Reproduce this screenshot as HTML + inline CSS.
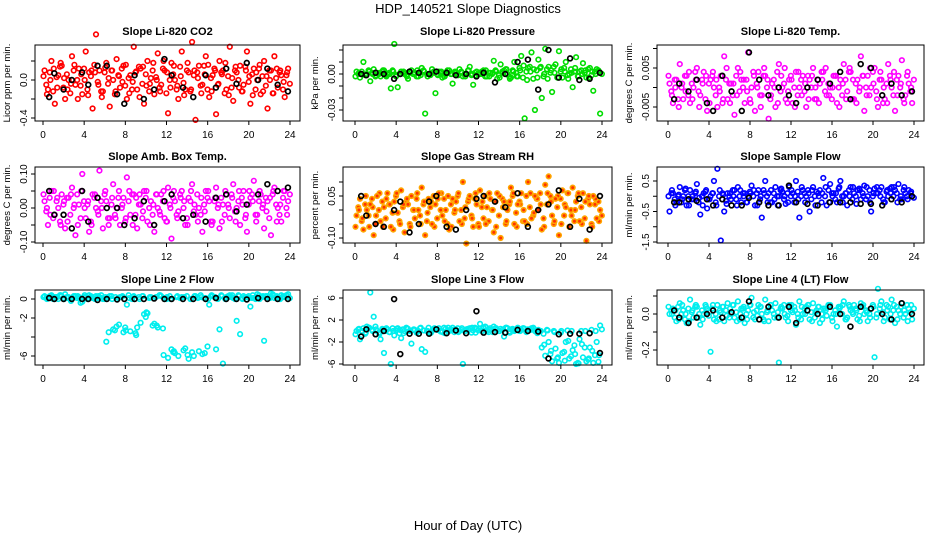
<!DOCTYPE html>
<html><head><meta charset="utf-8"><style>
body{margin:0;background:#fff}
svg{display:block;font-family:"Liberation Sans",sans-serif}
</style></head><body>
<svg id="chart" width="936" height="540" viewBox="0 0 936 540">
<rect width="936" height="540" fill="#fff"/>
<text x="468" y="13" font-size="13" text-anchor="middle">HDP_140521  Slope Diagnostics</text>
<text x="468" y="530" font-size="13" text-anchor="middle">Hour of Day (UTC)</text>
</svg>
<script>
const hours = Array.from({length:72},(_, i)=>i/3+0.15);
const hoursB = Array.from({length:72},(_, i)=>i/3+0.32);
const hoursC = Array.from({length:72},(_, i)=>i/3+0.05);
const blackHours = [0.6,1.1,2.0,2.8,3.8,4.4,5.3,6.2,7.2,7.9,8.9,9.8,10.8,11.8,12.5,13.6,14.6,15.8,16.8,17.8,18.8,19.8,20.9,21.8,22.8,23.8];
const xTicks = [0,4,8,12,16,20,24];

const co2Vals = [0.1,-0.1,0.2,-0.25,0.05,0.15,-0.2,0.0,0.25,-0.05,0.12,-0.15,0.3,0.08,-0.3,0.48,0.1,-0.12,0.18,-0.28,0.0,0.22,-0.08,0.15,-0.2,0.05,0.35,-0.1,0.12,-0.25,0.2,0.02,-0.15,0.28,-0.05,0.1,-0.35,0.18,0.0,-0.2,0.3,-0.1,0.08,0.4,-0.42,0.15,-0.05,0.25,-0.18,0.05,-0.36,0.2,0.1,-0.1,0.35,-0.22,0.08,0.15,-0.05,0.3,-0.25,0.12,0.0,-0.15,0.2,-0.3,0.1,0.25,-0.08,0.05,-0.18,0.12];
const co2ValsB = [-0.05,0.08,-0.12,0.03,0.14,-0.08,0.06,-0.14,0.1,0.0,-0.06,0.12,-0.1,0.04,0.16,-0.02,-0.12,0.08,-0.04,0.1,-0.15,0.05,0.12,-0.06,0.02,-0.1,0.08,0.14,-0.04,0.06,-0.12,0.1,0.03,-0.08,0.12,-0.14,0.0,0.06,-0.1,0.14,-0.03,0.1,-0.12,0.05,0.08,-0.06,0.15,-0.1,0.02,0.12,-0.05,0.08,-0.14,0.04,-0.08,0.1,0.0,-0.12,0.14,-0.02,0.06,-0.1,0.12,0.04,-0.06,0.1,-0.14,0.02,0.08,-0.1,0.05,-0.04];
const co2ValsC = [0.04,-0.15,0.0,0.12,-0.08,0.18,0.02,-0.1,-0.04,0.16,-0.2,0.06,0.0,-0.16,0.1,0.08,-0.05,-0.18,0.13,0.02,0.1,-0.12,0.04,-0.02,0.16,-0.14,-0.02,0.09,-0.18,0.14,-0.06,-0.04,0.18,0.0,-0.12,0.2,0.08,-0.08,0.15,-0.06,0.04,-0.16,0.18,-0.1,0.1,0.02,-0.14,0.06,0.16,-0.12,0.1,-0.04,0.06,0.18,-0.16,0.02,0.14,-0.08,-0.12,0.1,0.04,-0.16,0.08,0.16,-0.12,0.04,0.0,-0.14,0.12,0.1,-0.02,0.08];
const co2Black = [-0.18,0.07,-0.1,0.0,0.08,-0.05,0.15,0.15,-0.15,-0.25,0.05,-0.2,-0.1,0.22,0.05,-0.08,-0.18,0.05,-0.08,0.12,-0.04,0.18,0.0,0.12,-0.05,-0.12];
const presVals = [0.002,-0.003,0.01,0.0,-0.006,0.004,0.001,-0.002,0.003,0.0,-0.012,0.025,-0.011,0.002,0.0,-0.004,0.003,0.001,-0.002,0.005,-0.033,0.0,0.004,-0.016,0.002,-0.003,0.0,0.003,-0.008,0.001,0.004,-0.002,0.0,0.006,-0.009,0.002,0.0,0.003,-0.002,0.001,0.011,-0.004,0.008,0.003,0.0,-0.003,0.01,-0.002,0.015,-0.037,0.005,0.018,-0.03,0.012,-0.02,0.021,0.006,-0.015,0.008,0.019,-0.003,0.01,0.0,-0.011,0.014,0.002,0.009,-0.003,0.005,-0.014,0.004,-0.033];
const presValsB = [0.0,0.002,-0.001,0.003,0.001,-0.002,0.0,0.002,-0.001,0.001,0.003,-0.002,0.0,0.001,-0.001,0.002,0.0,-0.002,0.001,0.003,0.0,-0.001,0.002,0.0,0.001,-0.002,0.003,0.0,0.001,-0.001,0.002,0.0,0.003,-0.001,0.001,0.0,0.002,-0.002,0.001,0.0,0.003,-0.001,0.002,0.004,-0.002,0.003,0.001,0.005,-0.003,0.002,0.006,-0.004,0.003,0.005,-0.002,0.004,0.001,0.006,-0.003,0.002,0.005,-0.001,0.004,0.002,-0.002,0.003,0.001,0.004,-0.001,0.002,0.003,0.0];
const presValsC = [-0.002,0.001,0.0,-0.001,0.002,0.0,-0.001,0.001,0.003,-0.002,0.0,0.002,-0.001,0.0,0.002,-0.002,0.001,0.0,0.003,-0.001,0.002,-0.002,0.0,0.001,-0.001,0.002,-0.002,0.001,0.0,0.002,-0.001,0.001,-0.002,0.003,0.0,-0.001,0.001,0.0,0.003,-0.002,0.001,0.002,-0.003,0.001,0.004,-0.004,0.002,-0.002,0.003,0.007,-0.005,0.002,0.004,-0.003,0.006,0.0,-0.004,0.003,0.001,-0.003,0.004,0.002,-0.004,0.001,0.005,-0.002,0.0,0.003,-0.003,0.002,0.0,0.002];
const presBlack = [0.0,-0.001,0.001,0.0,-0.004,0.0,0.002,0.001,0.0,0.002,0.001,-0.001,0.0,-0.002,0.001,-0.007,0.0,0.01,0.012,-0.013,0.02,-0.003,0.013,-0.005,-0.004,0.001];
const tempVals = [0.001,-0.004,0.002,0.006,-0.003,0.003,-0.004,0.0,0.005,-0.002,0.004,-0.006,0.002,0.0,-0.005,0.003,0.008,-0.003,0.001,-0.007,0.005,0.002,-0.004,0.009,0.0,-0.006,0.004,-0.002,0.003,-0.008,0.001,-0.005,0.006,0.0,-0.003,0.002,-0.004,0.004,0.0,0.003,-0.005,0.002,0.005,-0.003,0.001,0.004,-0.002,0.0,0.003,-0.004,0.002,0.006,-0.001,0.004,-0.003,0.002,0.008,-0.006,0.003,0.0,0.005,-0.005,0.002,-0.003,0.006,0.0,-0.006,0.003,0.007,-0.002,0.001,-0.004];
const tempValsB = [-0.001,0.002,-0.003,0.0,0.003,-0.002,0.001,0.004,-0.001,0.002,-0.003,0.001,0.003,-0.002,0.0,-0.004,0.002,0.001,-0.002,0.003,-0.001,0.0,0.002,-0.003,0.004,0.001,-0.002,0.003,0.0,-0.003,0.002,0.004,-0.001,0.001,-0.004,0.003,0.0,-0.002,0.002,-0.001,0.003,0.0,-0.003,0.002,0.004,-0.001,0.001,-0.003,0.003,0.0,-0.002,0.002,0.004,-0.003,0.001,-0.001,0.003,0.0,-0.002,0.004,-0.001,0.002,-0.004,0.001,0.003,-0.002,0.002,0.0,-0.003,0.003,-0.001,0.002];
const tempValsC = [0.003,-0.002,0.0,-0.005,0.001,-0.001,0.004,-0.003,0.002,-0.005,0.001,0.003,-0.004,0.004,0.002,-0.001,-0.003,0.005,-0.004,0.001,-0.002,0.004,0.002,-0.001,-0.004,0.003,0.0,-0.005,0.005,0.002,-0.002,0.0,-0.004,0.003,0.005,-0.001,0.002,-0.005,0.004,-0.002,0.001,-0.003,0.003,0.0,-0.004,0.002,0.005,-0.002,0.0,0.003,-0.005,0.001,-0.003,0.005,0.002,-0.004,0.0,0.003,-0.002,0.005,0.001,-0.003,0.004,0.0,-0.004,0.002,0.004,-0.002,0.001,-0.004,0.004,0.0];
const tempBlack = [-0.003,0.001,-0.001,0.002,-0.004,-0.006,0.003,-0.001,-0.006,0.009,0.002,-0.002,0.0,-0.002,-0.004,0.0,0.002,0.001,0.004,-0.003,0.006,0.005,-0.002,0.001,-0.002,-0.001];
const ambVals = [0.02,-0.05,0.05,-0.02,0.0,0.04,-0.06,0.03,0.06,-0.08,0.01,0.1,-0.03,-0.07,0.04,0.0,0.11,-0.06,0.02,-0.03,0.07,0.0,-0.05,0.03,0.09,-0.02,0.04,-0.06,0.01,0.05,-0.04,0.02,-0.07,0.0,0.04,-0.03,0.06,-0.09,0.02,-0.01,0.05,-0.05,0.03,0.07,-0.02,0.0,-0.07,0.05,0.02,-0.04,0.06,-0.06,0.01,0.04,-0.03,0.07,0.0,-0.05,0.05,-0.07,0.03,0.08,-0.02,0.04,-0.06,0.02,-0.08,0.06,0.0,-0.04,0.05,0.02];
const ambValsB = [-0.01,0.03,-0.03,0.02,-0.04,0.01,0.03,-0.02,0.0,0.04,-0.03,0.02,0.01,-0.04,0.03,-0.01,0.02,0.04,-0.03,0.01,-0.02,0.03,0.0,-0.04,0.02,0.04,-0.02,0.01,-0.03,0.03,0.0,-0.02,0.04,-0.01,0.02,-0.04,0.01,0.03,-0.02,0.04,0.0,-0.03,0.02,-0.01,0.04,-0.02,0.01,0.03,-0.04,0.02,0.0,0.03,-0.02,0.01,0.04,-0.01,0.02,0.03,-0.03,0.01,0.04,-0.02,0.02,0.0,0.03,-0.03,0.04,0.01,-0.02,0.03,0.0,0.04];
const ambValsC = [0.04,0.0,-0.02,0.05,0.03,-0.05,0.02,-0.04,0.04,0.01,-0.05,0.05,0.0,0.02,-0.05,0.04,-0.02,0.0,0.05,-0.05,0.03,-0.03,0.05,0.01,-0.03,0.05,-0.05,0.03,0.04,-0.01,0.05,-0.05,0.01,0.04,-0.02,0.05,-0.04,0.0,0.05,-0.03,0.03,0.02,-0.05,0.05,0.01,-0.04,0.03,-0.01,0.05,-0.05,0.03,0.01,-0.04,0.05,0.0,0.03,-0.04,0.05,0.01,-0.02,0.05,0.02,-0.04,0.05,0.01,-0.01,0.03,0.05,-0.04,0.01,0.05,-0.02];
const ambBlack = [0.05,-0.02,-0.02,-0.06,0.05,-0.04,0.03,0.0,0.0,-0.05,-0.03,0.02,-0.05,0.02,0.04,-0.03,-0.02,-0.04,0.03,0.04,-0.01,0.01,0.04,0.07,0.05,0.06];
const rhVals = [-0.02,0.04,-0.07,0.0,0.02,-0.09,0.05,-0.04,0.01,0.06,-0.06,0.03,-0.01,0.07,-0.08,0.02,0.05,-0.03,0.0,0.08,-0.09,0.04,-0.05,0.02,0.06,-0.02,0.0,-0.07,0.04,0.03,-0.04,0.1,-0.12,0.05,-0.06,0.02,0.07,-0.03,0.01,0.04,-0.08,0.06,-0.1,0.03,0.0,0.08,-0.05,0.02,0.06,-0.04,0.1,-0.03,0.05,0.0,-0.07,0.09,0.12,-0.02,0.04,-0.09,0.07,0.01,-0.06,0.08,0.03,-0.04,0.06,-0.11,0.02,0.05,-0.03,0.0];
const rhValsB = [0.01,-0.04,0.02,-0.02,0.04,-0.05,0.0,0.03,-0.03,0.02,-0.01,0.05,-0.04,0.01,0.03,-0.05,0.0,0.04,-0.02,0.02,-0.04,0.01,0.05,-0.03,0.0,0.04,-0.05,0.02,-0.01,0.05,0.0,-0.03,0.03,-0.02,0.04,-0.05,0.01,0.05,-0.04,0.0,0.03,-0.02,0.04,-0.05,0.02,0.05,-0.01,0.03,-0.04,0.05,0.01,-0.02,0.04,0.06,-0.03,0.02,0.05,-0.05,0.01,0.04,-0.02,0.06,0.0,-0.04,0.05,0.01,-0.03,0.04,-0.05,0.02,0.03,-0.02];
const rhValsC = [-0.06,0.0,-0.03,0.05,-0.06,0.01,-0.02,0.06,-0.06,0.04,0.02,-0.07,0.06,-0.05,0.02,0.04,-0.06,0.0,0.06,-0.05,0.03,-0.01,0.03,-0.06,0.04,0.06,-0.04,0.05,-0.06,0.0,0.06,-0.05,0.01,0.04,-0.03,0.06,-0.06,0.03,-0.05,0.06,0.0,-0.06,0.05,0.01,-0.04,0.03,0.06,-0.06,0.02,0.0,-0.05,0.06,-0.01,0.04,0.02,-0.06,0.06,0.03,-0.04,0.05,-0.05,0.02,0.06,-0.02,0.0,0.06,-0.05,0.03,0.05,-0.06,0.04,-0.04];
const rhBlack = [0.05,-0.02,-0.05,-0.06,0.0,0.03,-0.08,-0.05,0.03,0.05,-0.06,-0.07,0.0,0.04,0.05,0.03,0.01,0.06,-0.06,0.0,0.02,0.07,-0.06,0.04,-0.07,0.05];
const sampVals = [-0.5,0.1,-0.2,0.3,0.0,-0.3,0.2,-0.1,0.4,-0.6,0.1,-0.4,0.0,0.5,0.9,-1.45,-0.5,0.1,-0.1,0.2,0.3,-0.2,0.1,0.0,0.35,-0.3,0.2,-0.7,0.5,0.1,-0.2,0.3,0.0,0.15,-0.25,0.3,0.1,0.5,-0.7,0.2,0.0,-0.5,0.3,0.15,0.2,0.6,-0.3,0.4,0.1,-0.2,0.5,0.0,-0.3,0.3,0.1,0.2,-0.1,0.35,0.0,-0.5,0.25,0.1,0.3,-0.2,0.0,0.3,0.2,0.4,-0.1,0.1,0.2,0.0];
const sampValsB = [0.1,-0.1,0.0,-0.2,0.2,0.0,-0.1,0.1,-0.2,0.0,0.15,-0.1,0.1,-0.2,0.0,0.1,-0.15,0.0,0.2,-0.1,0.0,0.1,-0.2,0.15,0.0,0.1,-0.1,0.2,0.0,-0.2,0.1,0.0,0.2,-0.1,0.1,0.0,-0.2,0.15,0.0,0.1,0.2,-0.1,0.0,0.1,-0.2,0.0,0.2,0.1,-0.1,0.25,0.0,0.1,0.2,-0.1,0.0,0.25,0.1,-0.1,0.2,0.0,0.1,0.2,-0.1,0.15,0.25,0.0,0.1,-0.1,0.2,0.0,0.1,-0.05];
const sampValsC = [0.0,0.2,-0.3,0.05,-0.1,0.25,-0.3,0.0,0.15,-0.05,-0.3,0.2,-0.1,0.1,-0.3,0.2,0.05,-0.25,0.1,0.0,-0.3,0.2,0.0,-0.2,0.1,0.2,-0.3,0.0,0.1,-0.2,0.2,-0.1,-0.3,0.25,0.0,-0.2,0.2,0.0,-0.1,0.3,-0.2,0.1,0.2,-0.3,0.0,0.1,0.3,-0.2,0.0,0.1,0.3,-0.2,0.1,0.0,0.3,-0.25,0.2,0.0,0.3,-0.2,0.1,0.3,0.0,-0.2,0.2,0.1,0.3,-0.2,0.0,0.3,-0.1,0.15];
const sampBlack = [-0.2,-0.2,-0.1,-0.15,-0.1,-0.3,-0.1,-0.3,-0.3,-0.05,-0.2,-0.3,-0.3,0.35,-0.2,-0.25,-0.3,-0.2,-0.2,-0.2,-0.25,-0.25,-0.3,-0.1,-0.2,0.0];
const l2Vals = [0.3,0.1,0.4,0.2,0.0,0.3,0.5,0.2,0.1,0.3,0.2,-0.3,0.2,0.4,0.1,0.3,0.2,0.0,-4.5,0.3,-3.2,-2.9,0.2,-3.5,-0.6,-3.4,0.3,-3.0,-2.5,-1.6,-1.5,0.2,-2.6,-3.0,0.3,0.1,-6.2,-5.3,-5.7,-6.0,0.2,-5.2,-6.3,-5.6,0.3,-5.5,-5.8,0.1,-0.6,0.3,-5.3,-3.2,-6.8,0.2,0.4,0.1,-2.3,-3.7,0.3,0.2,-0.8,0.1,0.5,0.2,-4.4,0.3,0.6,0.1,0.2,0.4,0.2,0.5];
const l2ValsB = [0.1,0.3,0.0,0.2,0.4,0.1,0.2,0.0,0.3,0.1,-0.4,0.2,0.0,0.3,0.2,0.1,0.4,0.0,0.2,0.3,-3.3,0.1,0.2,-3.0,0.4,0.0,-3.6,0.2,0.3,-1.9,0.1,-2.8,0.2,0.4,-3.1,0.0,0.3,-5.6,0.2,0.1,-5.4,0.3,0.0,-6.0,0.2,0.4,0.1,-5.0,0.3,0.2,0.0,0.4,0.1,0.3,0.2,0.0,0.4,0.1,0.2,0.3,0.1,0.0,0.4,0.2,0.3,0.1,0.5,0.2,0.0,0.3,0.4,0.1];
const l2ValsC = [0.2,0.0,0.3,0.1,0.2,0.4,0.0,0.1,-0.2,0.2,0.3,0.0,0.4,0.1,0.2,0.0,0.3,0.1,0.2,-3.5,0.0,0.2,-2.7,0.3,-3.3,0.1,0.2,-3.8,0.0,0.3,-1.4,0.2,0.1,-2.8,0.4,-5.9,0.2,0.0,-5.5,0.3,0.1,0.2,-5.9,0.0,0.3,0.1,0.2,-5.7,0.0,0.4,0.2,0.1,0.3,0.0,0.2,0.4,0.1,0.3,0.0,0.2,0.1,0.4,0.2,0.0,0.3,0.2,0.1,0.4,0.3,0.0,0.2,0.3];
const l2Black = [0.1,0.0,0.0,0.0,0.0,0.0,-0.1,0.0,-0.05,0.0,0.0,0.0,0.05,0.0,0.0,0.0,0.0,0.0,0.1,0.0,0.0,-0.05,0.1,0.0,0.0,0.0];
const l3Vals = [0.0,-1.5,0.5,0.8,7.0,2.6,0.0,-1.5,-4.0,0.3,-6.0,-0.8,0.5,-1.3,0.0,0.4,-2.3,0.2,0.0,-3.3,-3.8,0.6,0.0,0.3,0.5,-0.2,0.4,0.0,0.6,0.2,0.0,-6.0,0.3,0.5,0.1,0.4,1.3,0.6,0.0,0.5,0.8,0.2,0.4,-1.0,0.5,0.3,0.0,0.6,0.2,0.4,0.3,0.5,0.0,0.2,-3.0,-4.5,-2.0,-5.5,-3.2,-5.8,-4.0,-2.0,-5.0,-3.5,-6.0,-1.5,-4.8,-5.5,-3.0,-5.8,-2.0,1.0];
const l3ValsB = [0.3,0.0,-0.5,0.6,0.2,0.8,-0.3,0.4,0.0,-0.2,0.5,0.1,-0.4,0.3,0.6,0.0,0.2,-0.3,0.5,0.1,0.0,-0.4,0.4,0.2,-0.1,0.6,0.0,0.3,-0.2,0.5,0.2,0.0,0.4,-0.3,0.6,0.1,0.0,0.8,-0.2,0.3,0.5,0.0,0.2,0.6,-0.1,0.4,0.2,0.0,0.5,-0.2,0.3,0.6,0.1,0.0,-0.5,0.2,-4.2,0.0,-5.0,-0.3,-3.8,0.1,-4.6,-2.6,-5.8,0.0,-3.0,-5.2,0.2,-4.4,-5.6,0.3];
const l3ValsC = [-0.6,0.4,0.0,-0.3,0.6,0.0,0.3,-0.5,0.2,0.5,-0.2,0.0,0.4,0.2,-0.4,0.5,0.0,0.3,-0.2,0.6,0.1,0.0,-0.3,0.5,0.2,0.0,-0.4,0.6,0.1,0.3,-0.2,0.5,0.0,0.2,0.6,-0.3,0.4,0.0,0.7,0.2,-0.2,0.5,0.0,0.3,0.6,-0.3,0.2,0.4,0.0,0.5,-0.1,0.2,0.4,-0.4,0.0,-2.5,0.1,-3.6,-0.2,-4.8,0.0,-5.4,-1.8,0.0,-4.2,-5.9,-2.4,0.0,-5.0,-3.6,0.0,-4.4];
const l3Black = [-1.0,0.3,-0.6,0.0,5.8,-4.2,-0.5,-0.5,-0.5,0.3,-0.4,0.1,-0.4,3.6,-0.3,-0.2,-0.3,0.2,0.0,-0.1,-5.0,-0.6,-0.5,-0.5,-0.4,-4.0];
const l4Vals = [0.0,0.03,-0.04,0.06,0.02,-0.05,0.08,-0.02,0.04,-0.06,0.0,0.03,-0.21,-0.03,0.05,0.01,-0.04,0.06,0.0,-0.02,0.07,0.03,-0.05,0.02,0.09,-0.03,0.05,0.0,0.08,-0.04,0.02,0.06,-0.27,0.03,-0.02,0.05,0.01,-0.06,0.07,0.0,0.04,-0.03,0.06,0.02,-0.05,0.03,-0.01,0.05,0.0,-0.07,0.04,0.07,-0.02,0.02,0.05,-0.03,0.06,0.0,-0.04,0.03,-0.24,0.14,0.07,-0.02,0.04,0.08,-0.05,0.02,0.06,0.0,0.03,-0.03];
const l4ValsB = [0.02,-0.02,0.04,0.0,-0.03,0.03,0.01,0.04,-0.02,0.02,0.05,-0.01,0.03,0.0,-0.03,0.04,0.02,-0.02,0.05,0.01,-0.03,0.03,0.0,0.05,-0.02,0.02,0.04,-0.03,0.01,0.05,0.0,-0.02,0.03,0.05,-0.01,0.02,0.04,0.0,-0.03,0.03,0.05,0.01,-0.02,0.04,0.0,0.03,0.05,-0.02,0.02,0.04,0.0,-0.03,0.05,0.01,0.03,-0.01,0.04,0.02,0.0,0.05,-0.02,0.03,0.01,0.05,-0.03,0.02,0.04,0.0,-0.02,0.05,0.01,0.03];
const l4ValsC = [0.04,0.0,0.02,-0.03,0.05,0.0,-0.04,0.02,0.05,0.0,-0.03,0.04,0.01,0.05,-0.04,0.02,0.04,-0.01,0.03,0.05,-0.04,0.0,0.04,-0.03,0.05,0.01,-0.01,0.04,-0.04,0.02,0.05,-0.02,0.01,0.04,0.0,-0.04,0.05,0.02,-0.02,0.04,0.0,0.05,-0.04,0.01,0.04,-0.03,0.02,0.05,-0.04,0.0,0.03,0.05,-0.03,0.04,0.0,0.02,-0.04,0.05,0.01,-0.02,0.04,0.0,0.05,-0.04,0.02,0.0,0.05,-0.03,0.04,0.02,-0.04,0.05];
const l4Black = [0.02,-0.02,-0.05,-0.02,0.0,0.02,-0.02,0.01,-0.02,0.07,-0.03,0.04,-0.02,0.04,-0.05,0.02,0.0,0.04,0.0,-0.07,0.04,0.03,0.0,-0.03,0.06,0.0];

const co2Ticks=[-0.4,-0.2,0.0,0.2,0.4], co2Labels=["-0.4","","0.0","",""];
const presTicks=[-0.03,-0.02,-0.01,0,0.01,0.02], presLabels=["-0.03","","","0.00","",""];
const tempTicks=[-0.005,0,0.005,0.01], tempLabels=["-0.005","","0.005",""];
const ambTicks=[-0.1,-0.05,0,0.05,0.1], ambLabels=["-0.10","","0.00","","0.10"];
const rhTicks=[-0.1,-0.05,0,0.05,0.1], rhLabels=["-0.10","","","0.05",""];
const sampTicks=[-1.5,-1,-0.5,0,0.5], sampLabels=["-1.5","","-0.5","","0.5"];
const l2Ticks=[-6,-4,-2,0], l2Labels=["-6","","-2","0"];
const l3Ticks=[-6,-2,2,6], l3Labels=["-6","-2","2","6"];
const l4Ticks=[-0.2,-0.1,0,0.1], l4Labels=["-0.2","","0.0",""];

const NS="http://www.w3.org/2000/svg";
const svg=document.getElementById('chart');
function mk(tag,attrs,parent){const e=document.createElementNS(NS,tag);for(const k in attrs)e.setAttribute(k,attrs[k]);(parent||svg).appendChild(e);return e;}

const cols=[{l:35,r:300,x0:43,x1:290},{l:343,r:612,x0:355,x1:602},{l:657,r:924,x0:668,x1:914}];
const rows=[{t:45,b:121,ty:35},{t:167,b:243,ty:160},{t:290,b:365,ty:283}];
const panels=[
 {name:"co2",title:"Slope Li-820 CO2",yt:"Licor ppm per min.",c:0,r:0,col:"#ff0000",v:co2Vals,vb:co2ValsB,vc:co2ValsC,bk:co2Black,ticks:co2Ticks,labs:co2Labels,y0:-0.4,py0:118,y1:0.0,py1:80},
 {name:"pressure",title:"Slope Li-820 Pressure",yt:"kPa per min.",c:1,r:0,col:"#00dd00",v:presVals,vb:presValsB,vc:presValsC,bk:presBlack,ticks:presTicks,labs:presLabels,y0:-0.03,py0:110,y1:0.0,py1:74},
 {name:"temp",title:"Slope Li-820 Temp.",yt:"degrees C per min.",c:2,r:0,col:"#ff00ff",v:tempVals,vb:tempValsB,vc:tempValsC,bk:tempBlack,ticks:tempTicks,labs:tempLabels,y0:-0.005,py0:107,y1:0.005,py1:68},
 {name:"amb-box-temp",title:"Slope Amb. Box Temp.",yt:"degrees C per min.",c:0,r:1,col:"#ff00ff",v:ambVals,vb:ambValsB,vc:ambValsC,bk:ambBlack,ticks:ambTicks,labs:ambLabels,y0:-0.1,py0:242,y1:0.1,py1:174},
 {name:"gas-stream-rh",title:"Slope Gas Stream RH",yt:"percent per min.",c:1,r:1,col:"#ffa500",v:rhVals,vb:rhValsB,vc:rhValsC,bk:rhBlack,ticks:rhTicks,labs:rhLabels,y0:-0.1,py0:238,y1:0.05,py1:196},
 {name:"sample-flow",title:"Slope Sample Flow",yt:"ml/min per min.",c:2,r:1,col:"#0000ff",v:sampVals,vb:sampValsB,vc:sampValsC,bk:sampBlack,ticks:sampTicks,labs:sampLabels,y0:-1.5,py0:242,y1:0.5,py1:181},
 {name:"line2-flow",title:"Slope Line 2 Flow",yt:"ml/min per min.",c:0,r:2,col:"#00eeee",v:l2Vals,vb:l2ValsB,vc:l2ValsC,bk:l2Black,ticks:l2Ticks,labs:l2Labels,y0:-6,py0:356,y1:0,py1:299},
 {name:"line3-flow",title:"Slope Line 3 Flow",yt:"ml/min per min.",c:1,r:2,col:"#00eeee",v:l3Vals,vb:l3ValsB,vc:l3ValsC,bk:l3Black,ticks:l3Ticks,labs:l3Labels,y0:-6,py0:364,y1:6,py1:298},
 {name:"line4-flow",title:"Slope Line 4 (LT) Flow",yt:"ml/min per min.",c:2,r:2,col:"#00eeee",v:l4Vals,vb:l4ValsB,vc:l4ValsC,bk:l4Black,ticks:l4Ticks,labs:l4Labels,y0:-0.2,py0:350,y1:0,py1:314}
];

panels.forEach(p=>{
 const C=cols[p.c],R=rows[p.r];
 const xs=h=>C.x0+(C.x1-C.x0)*h/24;
 const ys=v=>p.py0+(p.py1-p.py0)*(v-p.y0)/(p.y1-p.y0);
 const g=mk('g',{});
 
 
 const t=mk('text',{x:(C.l+C.r)/2,y:R.ty,'font-size':11,'font-weight':'bold','text-anchor':'middle'},g);
 t.textContent=p.title;
 
 
 const yt=mk('text',{x:0,y:0,'font-size':9.5,'text-anchor':'middle',transform:`translate(${C.l-25},${(R.t+R.b)/2}) rotate(-90)`},g);
 yt.textContent=p.yt;
 
 
 const cg=mk('g',{},g);
 
 
 const isRH=p.name==='gas-stream-rh';
 [[hoursB,p.vb],[hoursC,p.vc],[hours,p.v]].forEach(([hs,vals])=>{
  vals.forEach((v,i)=>{
   const c=mk('circle',{cx:xs(hs[i]),cy:ys(v),r:2.3,fill:isRH?'#ff3300':'none',stroke:p.col,'stroke-width':1.6},cg);
   
   
  });
 });
 const bg=mk('g',{},g);
 
 
 p.bk.forEach((v,i)=>{
  const c=mk('circle',{cx:xs(blackHours[i]),cy:ys(v),r:2.4,fill:'none',stroke:'#000','stroke-width':1.7},bg);
  
  
 });
 const box=mk('rect',{x:C.l,y:R.t,width:C.r-C.l,height:R.b-R.t,fill:'none',stroke:'#000','stroke-width':1},g);
 
 
 xTicks.forEach(h=>{
  const x=xs(h);
  mk('line',{x1:x,x2:x,y1:R.b,y2:R.b+4,stroke:'#000'},g);
  const l=mk('text',{x:x,y:R.b+17,'font-size':10,'text-anchor':'middle'},g);
  l.textContent=h;
  
  
 });
 p.ticks.forEach((v,i)=>{
  const y=ys(v);
  if(y<R.t-1||y>R.b+1)return;
  mk('line',{x1:C.l-4,x2:C.l,y1:y,y2:y,stroke:'#000'},g);
  if(p.labs[i]){
   const l=mk('text',{x:0,y:0,'font-size':10,'text-anchor':'middle',transform:`translate(${C.l-8},${y}) rotate(-90)`},g);
   l.textContent=p.labs[i];
   
   
  }
 });
});
</script>
</body></html>
